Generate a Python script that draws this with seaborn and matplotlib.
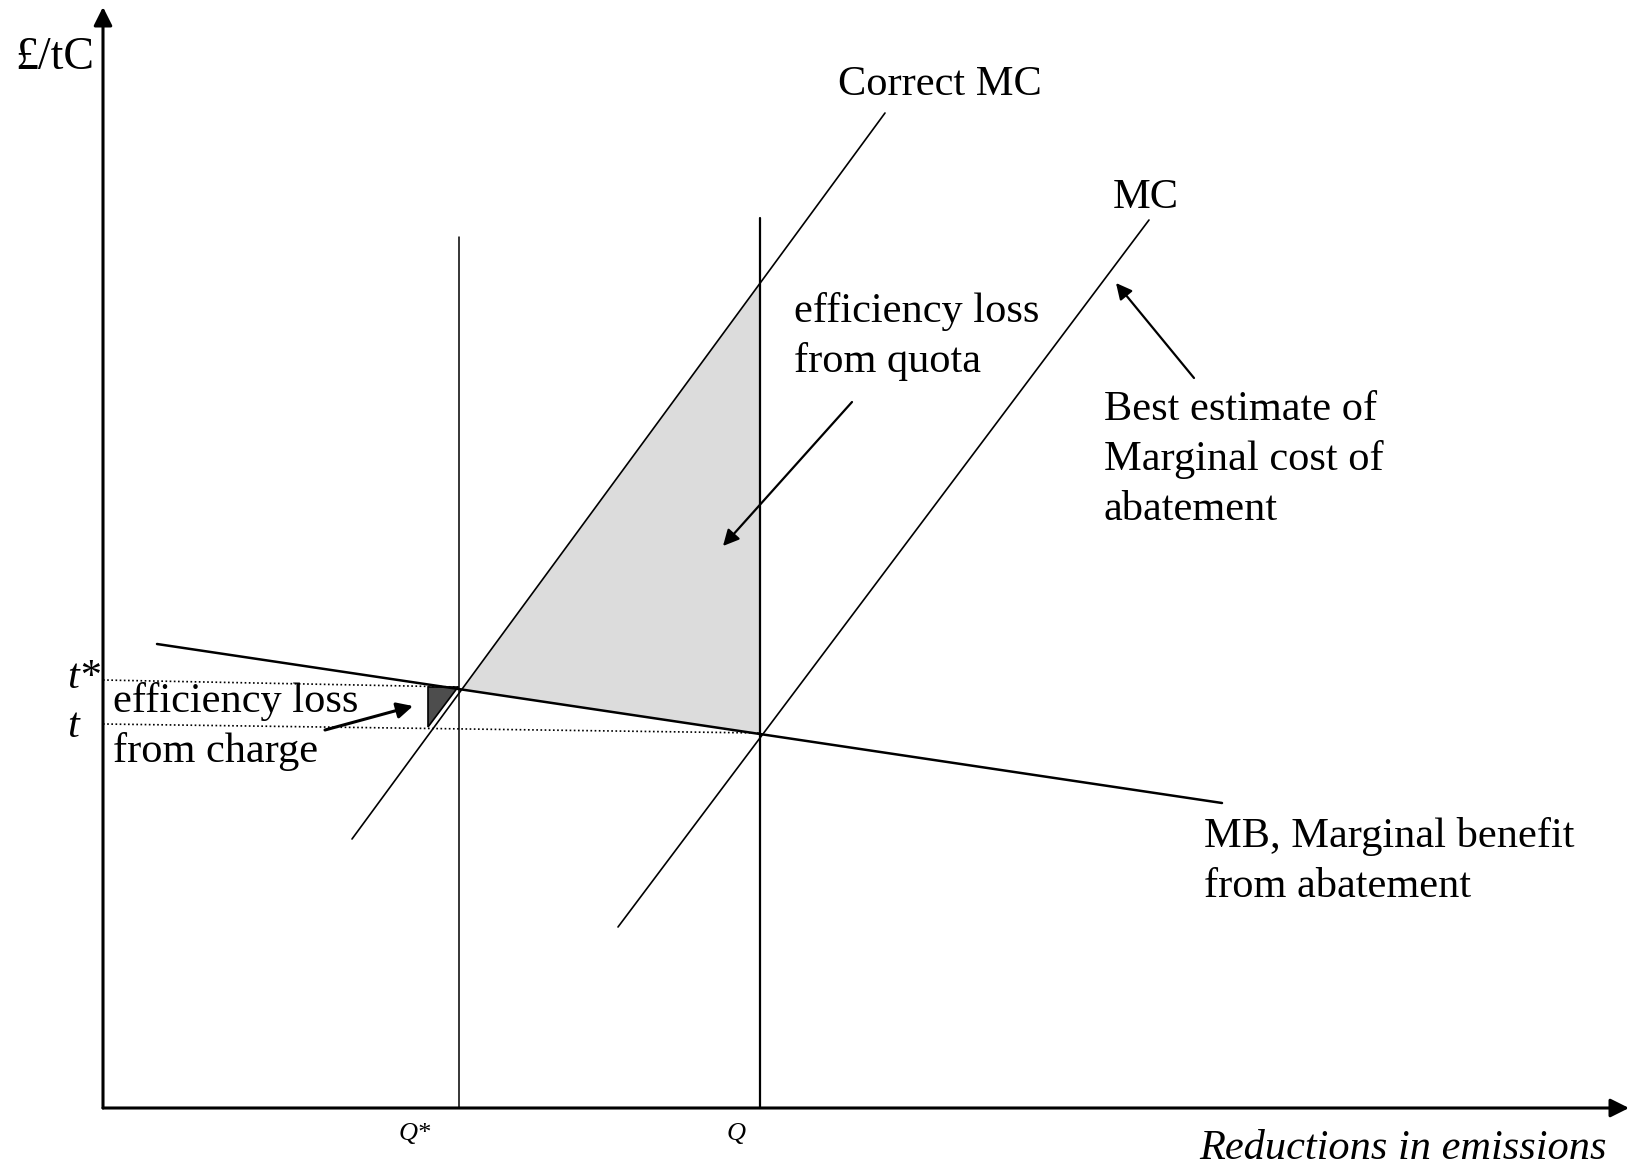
import numpy as np
import pandas as pd
import matplotlib.pyplot as plt
import seaborn as sns

# DONNEES du schema (x = reductions in emissions, y = £/tC)
mb_x = [5.4, 111.9]
mb_y = [46.4, 30.5]
correct_mc_x = [24.9, 78.2]
correct_mc_y = [26.9, 99.5]
mc_x = [51.5, 104.6]
mc_y = [18.1, 88.8]

q_star = 35.6
q_quota = 65.7
q_star_top = 87.1
q_quota_top = 89.0

# pointilles t* et t (de l'axe jusqu'aux intersections)
t_star_y = [42.8, 42.1]
t_y = [38.4, 37.5]

# petit triangle "efficiency loss from charge"
charge_tri_x = [32.5, 35.5, 32.5]
charge_tri_y = [42.1, 42.1, 38.1]

sns.set_theme(style="white")
plt.rcParams['font.family'] = ['Liberation Serif', 'DejaVu Serif']
plt.rcParams['text.color'] = 'black'

FS = 30.5


def y_on(xs, ys, x):
    s = (ys[1] - ys[0]) / (xs[1] - xs[0])
    return ys[0] + s * (x - xs[0])


def cross(xa, ya, xb, yb):
    sa = (ya[1] - ya[0]) / (xa[1] - xa[0])
    sb = (yb[1] - yb[0]) / (xb[1] - xb[0])
    x = (yb[0] - sb * xb[0] - ya[0] + sa * xa[0]) / (sa - sb)
    return x, y_on(xa, ya, x)


fig = plt.figure(figsize=(16.33, 11.68), dpi=100)
ax = fig.add_axes([0, 0, 1, 1])
ax.set_xlim(-10.3, 153.0)
ax.set_ylim(-6.0, 110.8)
ax.axis('off')

# zone grise : perte d'efficacite du quota
cx, cy = cross(correct_mc_x, correct_mc_y, mb_x, mb_y)
quota_poly_x = [cx, q_quota, q_quota]
quota_poly_y = [cy, y_on(correct_mc_x, correct_mc_y, q_quota), y_on(mb_x, mb_y, q_quota)]
ax.fill(quota_poly_x, quota_poly_y, color='#dcdcdc', lw=0, zorder=1)

# triangle fonce : perte d'efficacite de la taxe
ax.fill(charge_tri_x, charge_tri_y, facecolor='#4d4d4d', edgecolor='black', lw=1.2, zorder=2)

# pointilles
sns.lineplot(x=[0, q_star], y=t_star_y, ax=ax, color='black', lw=1.2,
             linestyle=(0, (1, 1.5)), estimator=None, sort=False)
sns.lineplot(x=[0, q_quota], y=t_y, ax=ax, color='black', lw=1.2,
             linestyle=(0, (1, 1.5)), estimator=None, sort=False)

# courbes
sns.lineplot(x=mb_x, y=mb_y, ax=ax, color='black', lw=1.8, estimator=None, sort=False)
sns.lineplot(x=correct_mc_x, y=correct_mc_y, ax=ax, color='black', lw=1.2, estimator=None, sort=False)
sns.lineplot(x=mc_x, y=mc_y, ax=ax, color='black', lw=1.2, estimator=None, sort=False)
sns.lineplot(x=[q_star, q_star], y=[0, q_star_top], ax=ax, color='black', lw=1.1,
             estimator=None, sort=False)
sns.lineplot(x=[q_quota, q_quota], y=[0, q_quota_top], ax=ax, color='black', lw=1.6,
             estimator=None, sort=False)

# axes avec fleches
axis_arrow = dict(arrowstyle='-|>', lw=2.2, color='black', mutation_scale=28,
                  shrinkA=0, shrinkB=0)
ax.annotate('', xy=(0, 110.1), xytext=(0, 0), arrowprops=axis_arrow)
ax.annotate('', xy=(152.6, 0), xytext=(0, 0), arrowprops=axis_arrow)

# fleches des annotations
note_arrow = dict(arrowstyle='-|>', lw=1.6, color='black', mutation_scale=24,
                  shrinkA=0, shrinkB=0)
ax.annotate('', xy=(62.0, 56.2), xytext=(74.9, 70.6), arrowprops=note_arrow)
ax.annotate('', xy=(101.3, 82.5), xytext=(109.1, 73.0), arrowprops=note_arrow)
ax.annotate('', xy=(31.0, 40.2), xytext=(22.2, 37.8),
            arrowprops=dict(note_arrow, lw=2.2))

# textes


def lines(x, y0, txt_lines, step=5.0, size=FS, **kw):
    for i, s in enumerate(txt_lines):
        ax.text(x, y0 - i * step, s, fontsize=size, va='baseline', ha='left',
                color='black', **kw)


lines(-8.8, 103.9, ["£/tC"], size=33)
lines(73.5, 101.3, ["Correct MC"])
lines(101.0, 90.0, ["MC"])
lines(69.1, 78.6, ["efficiency loss", "from quota"])
lines(100.1, 68.8, ["Best estimate of", "Marginal cost of", "abatement"])
lines(110.1, 26.1, ["MB, Marginal benefit", "from abatement"])
lines(1.0, 39.6, ["efficiency loss", "from charge"])
lines(-3.6, 42.0, ["t*"], style='italic')
lines(-3.6, 37.1, ["t"], style='italic')

ax.text(31.2, -3.2, "Q*", fontsize=19, style='italic', ha='center', va='baseline',
        color='black')
ax.text(63.3, -3.2, "Q", fontsize=19, style='italic', ha='center', va='baseline',
        color='black')
ax.text(150.4, -5.1, "Reductions in emissions", fontsize=FS, style='italic',
        ha='right', va='baseline', color='black')

fig.savefig("out.png", dpi=100)
plt.close()
